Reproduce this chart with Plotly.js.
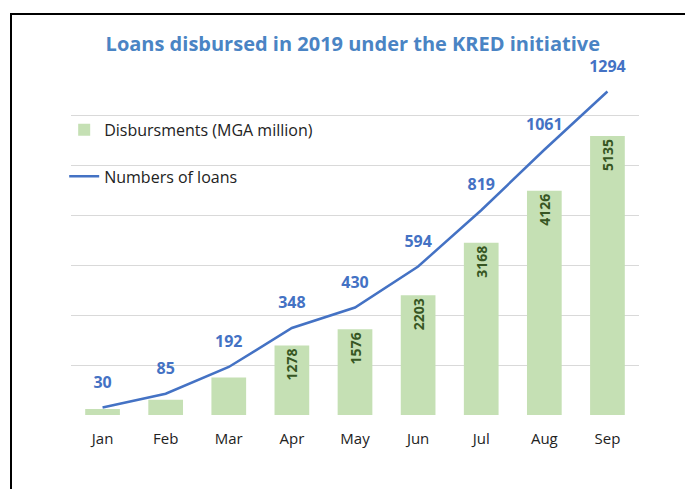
<!DOCTYPE html>
<html><head><meta charset="utf-8">
<script src="https://cdn.plot.ly/plotly-3.0.1.min.js"></script>
<style>
html,body{margin:0;padding:0;background:#fff;}
#wrap{position:relative;width:685px;height:489px;}
#chart{width:685px;height:489px;}
#frame{position:absolute;left:10px;top:13px;right:-5px;bottom:-5px;border-top:2px solid #000;border-left:2px solid #000;pointer-events:none;}
</style></head>
<body><div id="wrap"><div id="chart"></div><div id="frame"></div></div>
<script>
const months = ["Jan","Feb","Mar","Apr","May","Jun","Jul","Aug","Sep"];
const disbursements = [110, 280, 690, 1278, 1576, 2203, 3168, 4126, 5135];
const loans = [30, 85, 192, 348, 430, 594, 819, 1061, 1294];
const titleText = "Loans disbursed in 2019 under the KRED initiative";
const barName = "Disbursments (MGA million)";
const lineName = "Numbers of loans";

const barText = disbursements.map(v => v >= 1000 ? String(v) : "");
const FONT = "'Open Sans', sans-serif";

const bars = {
  type: "bar", x: months, y: disbursements, name: barName,
  marker: {color: "#c5e0b4"},
  text: barText, textposition: "inside", insidetextanchor: "end", textangle: -90,
  textfont: {family: FONT, size: 14, color: "#375623", weight: "bold"},
  hoverinfo: "skip", yaxis: "y", legend: "legend"
};
const line = {
  type: "scatter", mode: "lines+markers+text", x: months, y: loans, name: lineName,
  line: {color: "#4472c4", width: 2.5},
  marker: {size: 24, color: "rgba(0,0,0,0)", line: {width: 0}},
  text: loans.map(String), textposition: "top center",
  textfont: {family: FONT, size: 16, color: "#4472c4", weight: "bold"},
  cliponaxis: false, yaxis: "y2", legend: "legend2"
};

const layout = {
  width: 685, height: 489,
  margin: {l: 71, r: 46, t: 60, b: 74},
  paper_bgcolor: "#fff", plot_bgcolor: "#fff",
  title: {text: titleText, x: 0.515, xanchor: "center", y: 0.91, yanchor: "middle",
          font: {family: FONT, size: 20, color: "#4a84c4", weight: "bold"}},
  bargap: 0.45,
  xaxis: {range: [-0.5, 8.5], tickfont: {family: FONT, size: 15, color: "#222"}, showline: false,
          ticks: "", ticklabelstandoff: 13, fixedrange: true},
  yaxis: {range: [0, 6532], showgrid: false, showticklabels: false, zeroline: false, ticks: ""},
  yaxis2: {range: [0, 1420], overlaying: "y", side: "left", tickvals: [0,200,400,600,800,1000,1200],
           showgrid: true, gridcolor: "#d9d9d9", gridwidth: 1, showticklabels: false, zeroline: false, ticks: ""},
  showlegend: true,
  legend: {x: -0.012, y: 0.803, xanchor: "left", yanchor: "middle", bgcolor: "rgba(0,0,0,0)",
           font: {family: FONT, size: 16, color: "#222"}},
  legend2: {x: -0.012, y: 0.672, xanchor: "left", yanchor: "middle", bgcolor: "rgba(0,0,0,0)",
           font: {family: FONT, size: 16, color: "#222"}}
};
Plotly.newPlot("chart", [bars, line], layout, {displayModeBar: false, staticPlot: true});
</script></body></html>
